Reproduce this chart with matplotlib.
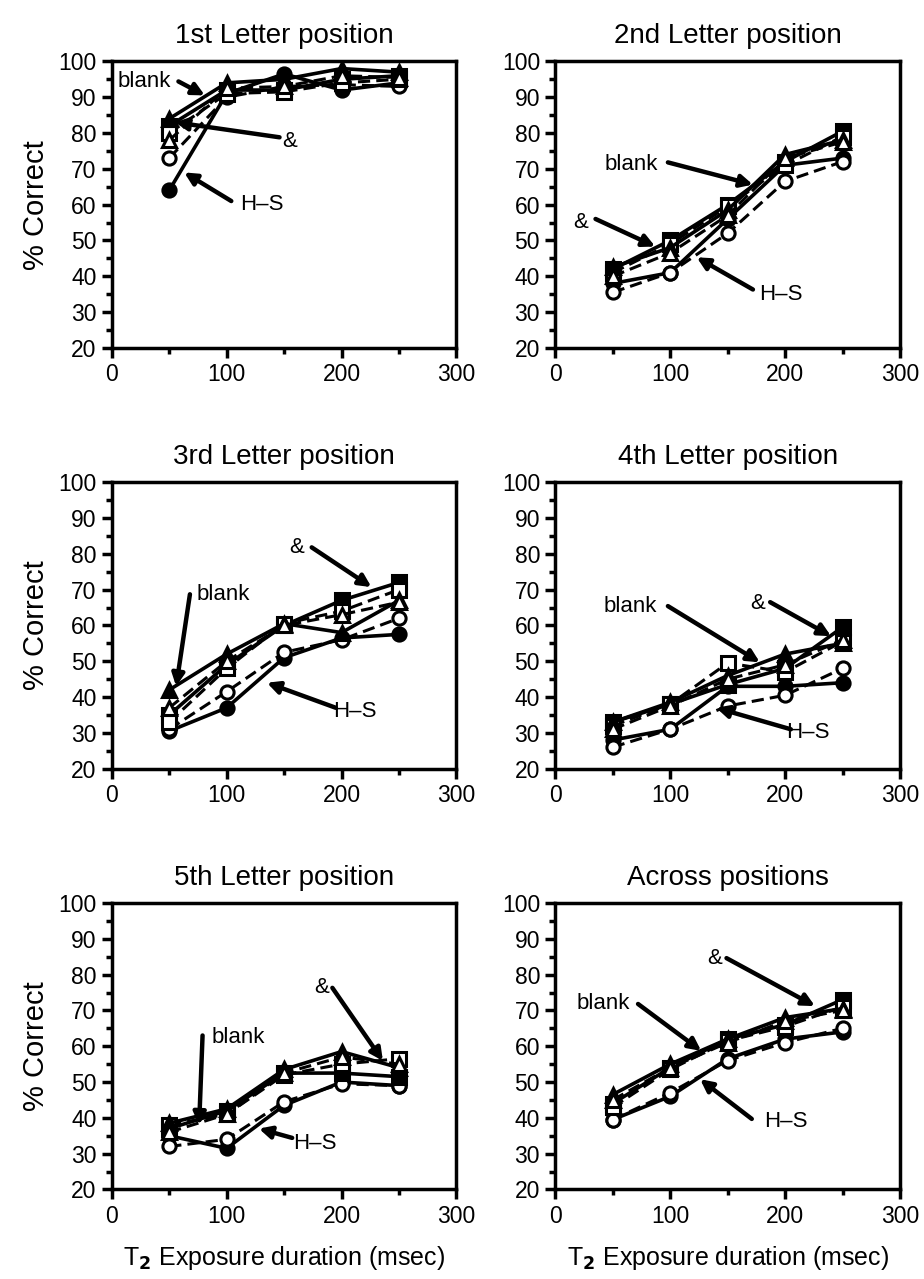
import matplotlib
matplotlib.use("Agg")
import matplotlib.pyplot as plt
from matplotlib.ticker import MultipleLocator

plt.rcParams["font.family"] = ["Liberation Sans", "DejaVu Sans"]

# --- data: % correct at each T2 exposure duration ---
durees = [50, 100, 150, 200, 250]

titres = ["1st Letter position", "2nd Letter position",
          "3rd Letter position", "4th Letter position",
          "5th Letter position", "Across positions"]

# filled circle (solid), open circle (dashed), filled square (solid),
# open square (dashed), filled triangle (solid), open triangle (dashed)
p1_fc = [64, 91, 96.5, 92, 94]
p1_oc = [73, 90, 93, 93.5, 93]
p1_fs = [82, 92, 92, 95, 96]
p1_os = [80, 91, 91.5, 94, 95]
p1_ft = [84, 94, 95, 98, 97]
p1_ot = [78, 92.5, 93, 96, 95.5]

p2_fc = [38, 41, 56, 71, 73]
p2_oc = [35.5, 41, 52, 66.5, 72]
p2_fs = [42, 50, 60, 72, 80.5]
p2_os = [41, 49, 59.5, 71, 79]
p2_ft = [42.5, 48, 58.5, 74, 78]
p2_ot = [40, 46.5, 57, 73, 77.5]

p3_fc = [30.5, 37, 51, 56.5, 57.5]
p3_oc = [31, 41.5, 52.5, 56, 62]
p3_fs = [35, 49, 60, 67, 72]
p3_os = [33, 48, 60.5, 64, 70]
p3_ft = [42, 52, 60.5, 58, 67]
p3_ot = [37, 50, 60, 63, 66.5]

p4_fc = [28, 31, 43, 43, 44]
p4_oc = [26, 31, 37.5, 40.5, 48]
p4_fs = [33, 38, 43.5, 48, 59.5]
p4_os = [32, 38, 49.5, 47, 55.5]
p4_ft = [33, 38.5, 46, 52, 55]
p4_ot = [31, 37.5, 45, 49, 56]

p5_fc = [35, 31.5, 43.5, 50, 49]
p5_oc = [32, 34, 44.5, 49.5, 49]
p5_fs = [37, 42, 52.5, 52.5, 51.5]
p5_os = [38, 41, 52, 55, 56.5]
p5_ft = [38.5, 42.5, 53.5, 58.5, 54]
p5_ot = [36, 41, 52.5, 57, 55]

p6_fc = [39.5, 46, 56.5, 62, 64]
p6_oc = [39.5, 47, 56, 61, 65]
p6_fs = [44, 54, 62, 66, 73]
p6_os = [43, 53.5, 61.5, 65.5, 71]
p6_ft = [46.5, 55, 62, 68, 70.5]
p6_ot = [45, 54, 61, 67, 70]

panneaux = [
    [p1_fc, p1_oc, p1_fs, p1_os, p1_ft, p1_ot],
    [p2_fc, p2_oc, p2_fs, p2_os, p2_ft, p2_ot],
    [p3_fc, p3_oc, p3_fs, p3_os, p3_ft, p3_ot],
    [p4_fc, p4_oc, p4_fs, p4_os, p4_ft, p4_ot],
    [p5_fc, p5_oc, p5_fs, p5_os, p5_ft, p5_ot],
    [p6_fc, p6_oc, p6_fs, p6_os, p6_ft, p6_ot],
]

# annotations: (text, text xy, arrow start, arrow end)
notes = [
    [("blank", (28, 94.4), (58, 94.4), (81, 90.5)),
     ("&", (155, 77.7), (146, 78.8), (55, 83)),
     ("H\u2013S", (131, 60), (104, 61), (63, 69))],
    [("blank", (66, 71.2), (98, 71.8), (172, 65.6)),
     ("&", (22, 55), (35, 56), (87, 48.3)),
     ("H\u2013S", (196, 35), (172, 36.3), (123, 45.3))],
    [("&", (161, 81.8), (174, 81.8), (226, 70.7)),
     ("blank", (97, 68.7), (68, 68.7), (56, 43)),
     ("H\u2013S", (212, 36), (195, 37), (135, 44))],
    [("blank", (65, 65.4), (98, 65.4), (178, 49.7)),
     ("&", (176, 66), (187, 66.5), (240, 57)),
     ("H\u2013S", (220, 30), (205, 31), (140, 37))],
    [("&", (183, 76.3), (192, 76.3), (236, 55.9)),
     ("blank", (110, 62.3), (79, 63), (76, 38)),
     ("H\u2013S", (177, 32.7), (157, 34.4), (128, 37))],
    [("&", (139, 84.4), (149, 84.6), (226, 71.2)),
     ("blank", (42, 72), (72, 71.8), (127, 58.7)),
     ("H\u2013S", (201, 39), (171, 39.7), (126, 50.8))],
]

styles = [
    dict(marker="o", linestyle="-", mfc="black"),
    dict(marker="o", linestyle="--", mfc="white"),
    dict(marker="s", linestyle="-", mfc="black"),
    dict(marker="s", linestyle="--", mfc="white"),
    dict(marker="^", linestyle="-", mfc="black"),
    dict(marker="^", linestyle="--", mfc="white"),
]

fig = plt.figure(figsize=(9.24, 12.79), dpi=100)

gauche = [0.121, 0.601]
bas = [0.728, 0.399, 0.070]
largeur, hauteur = 0.373, 0.224

for i in range(6):
    ax = fig.add_axes([gauche[i % 2], bas[i // 2], largeur, hauteur])
    for serie, st in zip(panneaux[i], styles):
        tiret = st["linestyle"] == "--"
        ax.plot(durees, serie, color="black", lw=2.2 if tiret else 2.6, ms=9.5,
                mec="black", mew=2.2, dashes=(4, 2) if tiret else (None, None),
                marker=st["marker"], linestyle=st["linestyle"], mfc=st["mfc"])
    for texte, pos, debut, fin in notes[i]:
        ax.text(pos[0], pos[1], texte, fontsize=16, ha="center", va="center")
        ax.annotate("", xy=fin, xytext=debut,
                    arrowprops=dict(arrowstyle="-|>", lw=3.2, color="black",
                                    mutation_scale=18, shrinkA=0, shrinkB=0))

    ax.set_xlim(0, 300)
    ax.set_ylim(20, 100)
    ax.xaxis.set_major_locator(MultipleLocator(100))
    ax.xaxis.set_minor_locator(MultipleLocator(50))
    ax.yaxis.set_major_locator(MultipleLocator(10))
    ax.yaxis.set_minor_locator(MultipleLocator(5))
    ax.tick_params(which="both", direction="out", width=2.5, top=False, right=False)
    ax.tick_params(which="major", length=7, labelsize=16.5, pad=4)
    ax.tick_params(which="minor", length=4)
    for sp in ax.spines.values():
        sp.set_linewidth(2.5)
    ax.set_title(titres[i], fontsize=20, pad=13)
    if i % 2 == 0:
        ax.set_ylabel("% Correct", fontsize=21, labelpad=6)
    if i >= 4:
        ax.set_xlabel(r"T$_\mathbf{2}$ Exposure duration (msec)", fontsize=18, labelpad=12)

plt.savefig("out.png", dpi=100)
